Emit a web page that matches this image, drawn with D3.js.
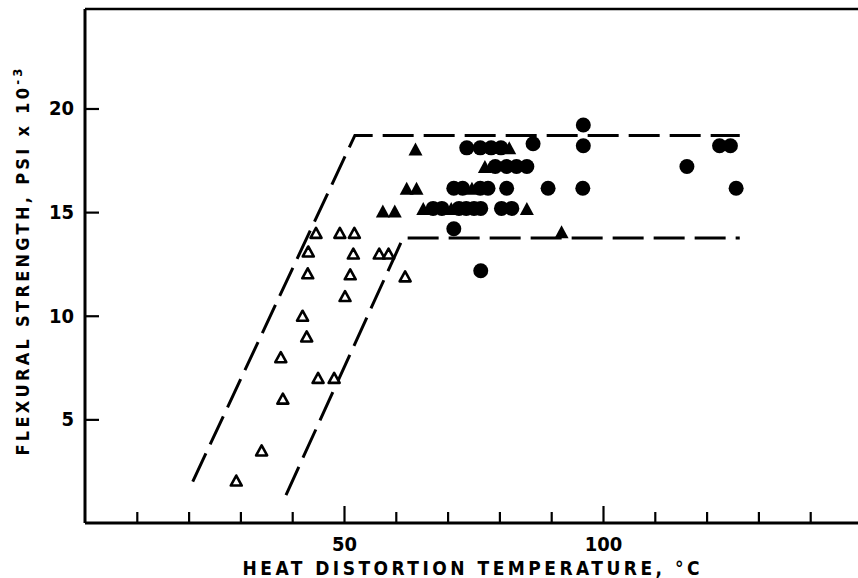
<!DOCTYPE html>
<html lang="en">
<head>
	<meta charset="utf-8">
	<script type="text/javascript" src="https://d3js.org/d3.v7.min.js"></script>
	<style type="text/css">
		body { margin: 0; background: #fff; }
		text { font-family: "Liberation Sans Narrow", "DejaVu Sans Condensed", "Liberation Sans", sans-serif; font-weight: bold; fill: #000; }
	</style>
	<title>Flexural strength vs heat distortion temperature</title>
</head>
<body>
	<script type="text/javascript">
		// data: [temperature °C, strength psi x 10^-3]
		var openTriangles = [
			[44.6, 14.0], [49.2, 14.0], [52.0, 14.0],
			[43.1, 13.1], [51.8, 13.0], [56.8, 13.0], [58.6, 13.0],
			[43.0, 12.05], [51.2, 12.0], [61.8, 11.9],
			[50.2, 10.95], [42.0, 10.0], [42.8, 9.0], [37.8, 8.0],
			[45.0, 7.0], [48.1, 7.0], [38.2, 6.0], [34.1, 3.5], [29.2, 2.05]
		];
		var filledTriangles = [
			[63.8, 18.05], [81.9, 18.1], [77.2, 17.2],
			[62.1, 16.15], [64.0, 16.15], [74.7, 16.15],
			[57.5, 15.05], [59.8, 15.05], [65.3, 15.18], [70.7, 15.18], [85.3, 15.18],
			[92.0, 14.05]
		];
		var filledCircles = [
			[73.7, 18.1], [76.3, 18.1], [78.4, 18.1], [80.3, 18.1], [86.5, 18.3],
			[79.2, 17.2], [81.4, 17.2], [83.3, 17.2], [85.3, 17.2],
			[71.2, 16.15], [72.9, 16.15], [76.3, 16.15], [77.8, 16.15], [81.4, 16.15], [89.4, 16.15],
			[67.2, 15.18], [68.9, 15.18], [72.2, 15.18], [73.6, 15.18], [75.1, 15.18], [76.4, 15.18],
			[80.4, 15.18], [82.4, 15.18],
			[71.2, 14.2], [76.4, 12.17],
			[96.2, 19.2], [96.2, 18.2], [96.1, 16.15],
			[116.2, 17.2], [122.5, 18.2], [124.6, 18.2], [125.7, 16.15]
		];
		// dashed envelope
		var upperBound = [[20.8, 2.0], [52.1, 18.7], [126.4, 18.7]];
		var lowerBound = [[38.8, 1.35], [61.4, 13.75], [126.4, 13.75]];

		var xTicks = [10, 20, 30, 40, 50, 60, 70, 80, 90, 100, 110, 120, 130, 140];
		var xLabels = [50, 100];
		var yTicks = [5, 10, 15, 20];

		var w = 858, h = 578;
		var margin = {left: 85, top: 9, bottom: 56};

		var x = d3.scaleLinear().domain([0, 150]).range([margin.left, margin.left + 777]);
		var y = d3.scaleLinear().domain([0, 24.8]).range([h - margin.bottom + 1, margin.top]);

		var svg = d3.select("body").append("svg")
			.attr("width", w)
			.attr("height", h);

		// top border
		svg.append("line")
			.attr("x1", x(0)).attr("x2", w + 10)
			.attr("y1", y(24.8)).attr("y2", y(24.8))
			.attr("stroke", "#000").attr("stroke-width", 2.6);

		// x axis, ticks point inward
		var xAxis = svg.append("g")
			.attr("transform", "translate(0," + y(0) + ")")
			.call(d3.axisBottom(x)
				.tickValues(xTicks)
				.tickSizeInner(-11)
				.tickSizeOuter(0)
				.tickPadding(13)
				.tickFormat(function(d) { return xLabels.indexOf(d) >= 0 ? d : ""; }));
		xAxis.select(".domain").attr("stroke-width", 3).attr("d", "M" + x(0) + ",0H" + (w + 10));
		xAxis.selectAll(".tick line").attr("stroke-width", 2.2)
			.attr("y2", function(d) { return xLabels.indexOf(d) >= 0 ? -17 : -11; });
		xAxis.selectAll(".tick text").style("font-size", "20px").attr("dy", "0.74em");

		// y axis
		var yAxis = svg.append("g")
			.attr("transform", "translate(" + x(0) + ",0)")
			.call(d3.axisLeft(y)
				.tickValues(yTicks)
				.tickSizeInner(-14)
				.tickSizeOuter(0)
				.tickPadding(11));
		yAxis.select(".domain").attr("stroke-width", 3)
			.attr("d", "M0," + y(24.8) + "V" + y(0));
		yAxis.selectAll(".tick line").attr("stroke-width", 2.2);
		yAxis.selectAll(".tick text").style("font-size", "20px");

		// envelope lines
		var line = d3.line().x(function(d) { return x(d[0]); }).y(function(d) { return y(d[1]); });
		[upperBound, lowerBound].forEach(function(b) {
			svg.append("path")
				.attr("d", line(b))
				.attr("fill", "none")
				.attr("stroke", "#000")
				.attr("stroke-width", 3)
				.attr("stroke-dasharray", "31,10");
		});

		function tri(wd, ht) {
			return "M0," + (-ht / 2) + "L" + (wd / 2) + "," + (ht / 2) + "L" + (-wd / 2) + "," + (ht / 2) + "Z";
		}

		svg.selectAll("path.open")
			.data(openTriangles)
			.enter().append("path")
			.attr("class", "open")
			.attr("d", tri(11, 10))
			.attr("transform", function(d) { return "translate(" + x(d[0]) + "," + y(d[1]) + ")"; })
			.attr("fill", "#fff")
			.attr("stroke", "#000")
			.attr("stroke-width", 2.6)
			.attr("stroke-linejoin", "round");

		svg.selectAll("path.solid")
			.data(filledTriangles)
			.enter().append("path")
			.attr("class", "solid")
			.attr("d", tri(14, 13))
			.attr("transform", function(d) { return "translate(" + x(d[0]) + "," + y(d[1]) + ")"; })
			.attr("fill", "#000");

		svg.selectAll("circle.dot")
			.data(filledCircles)
			.enter().append("circle")
			.attr("class", "dot")
			.attr("cx", function(d) { return x(d[0]); })
			.attr("cy", function(d) { return y(d[1]); })
			.attr("r", 7.5)
			.attr("fill", "#000");

		// axis titles
		svg.append("text")
			.attr("x", 471).attr("y", 575)
			.attr("text-anchor", "middle")
			.attr("textLength", 457)
			.attr("lengthAdjust", "spacing")
			.style("font-size", "19px")
			.text("HEAT DISTORTION TEMPERATURE, °C");

		var yt = svg.append("text")
			.attr("transform", "translate(29,262) rotate(-90)")
			.attr("text-anchor", "middle")
			.attr("textLength", 387)
			.attr("lengthAdjust", "spacing")
			.style("font-size", "18px");
		yt.append("tspan").text("FLEXURAL STRENGTH, PSI x 10");
		yt.append("tspan").attr("dy", -7).style("font-size", "13px").text("-3");
	</script>
</body>
</html>
